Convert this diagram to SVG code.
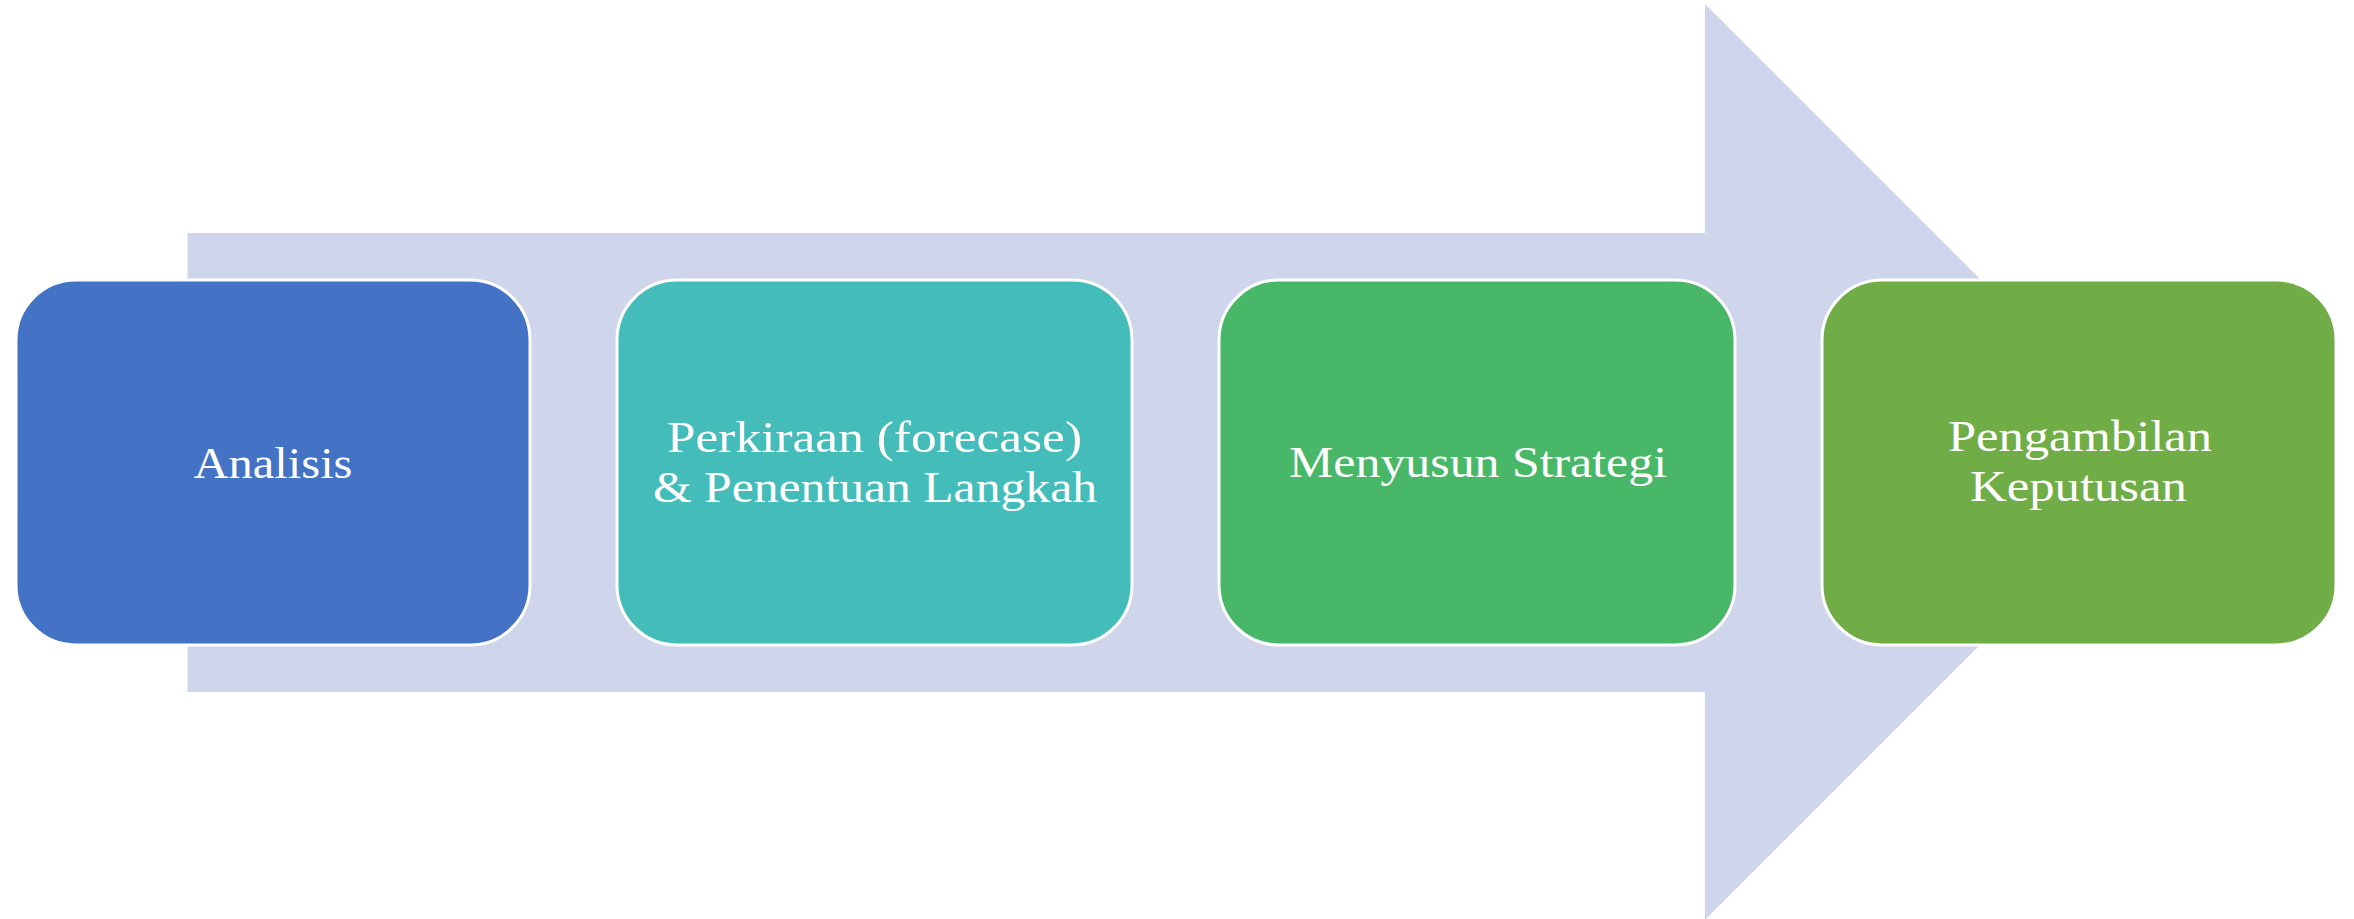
<svg xmlns="http://www.w3.org/2000/svg" width="2354" height="919" viewBox="0 0 2354 919">
  <style>
    .step { stroke: #FFFFFF; stroke-width: 3; }
    .label { font-family: "Liberation Serif", "Times New Roman", serif; font-size: 45px; fill: #FFFFFF; text-anchor: middle; }
  </style>
  <rect width="2354" height="919" fill="#FFFFFF"/>

  <!-- background process arrow -->
  <g id="connectors">
    <path id="flow-arrow" d="M187.5 233 H1705 V4 L2163 462 L1705 920 V692 H187.5 Z" fill="#CFD5EA"/>
  </g>

  <g id="node-analisis">
    <rect class="step" x="16" y="280" width="514" height="365" rx="60" ry="60" fill="#4472C4"/>
    <text class="label" x="273" y="478" textLength="159" lengthAdjust="spacingAndGlyphs">Analisis</text>
  </g>

  <g id="node-perkiraan">
    <rect class="step" x="617" y="280" width="515" height="365" rx="60" ry="60" fill="#44BDBA"/>
    <text class="label" x="874.5" y="452" textLength="415" lengthAdjust="spacingAndGlyphs">Perkiraan (forecase)</text>
    <text class="label" x="875" y="502" textLength="444" lengthAdjust="spacingAndGlyphs">&amp; Penentuan Langkah</text>
  </g>

  <g id="node-strategi">
    <rect class="step" x="1219" y="280" width="516" height="365" rx="60" ry="60" fill="#48B767"/>
    <text class="label" x="1478" y="477" textLength="378" lengthAdjust="spacingAndGlyphs">Menyusun Strategi</text>
  </g>

  <g id="node-keputusan">
    <rect class="step" x="1822" y="280" width="514" height="365" rx="60" ry="60" fill="#70AD47"/>
    <text class="label" x="2080" y="451" textLength="264" lengthAdjust="spacingAndGlyphs">Pengambilan</text>
    <text class="label" x="2078.5" y="501" textLength="217" lengthAdjust="spacingAndGlyphs">Keputusan</text>
  </g>
</svg>
